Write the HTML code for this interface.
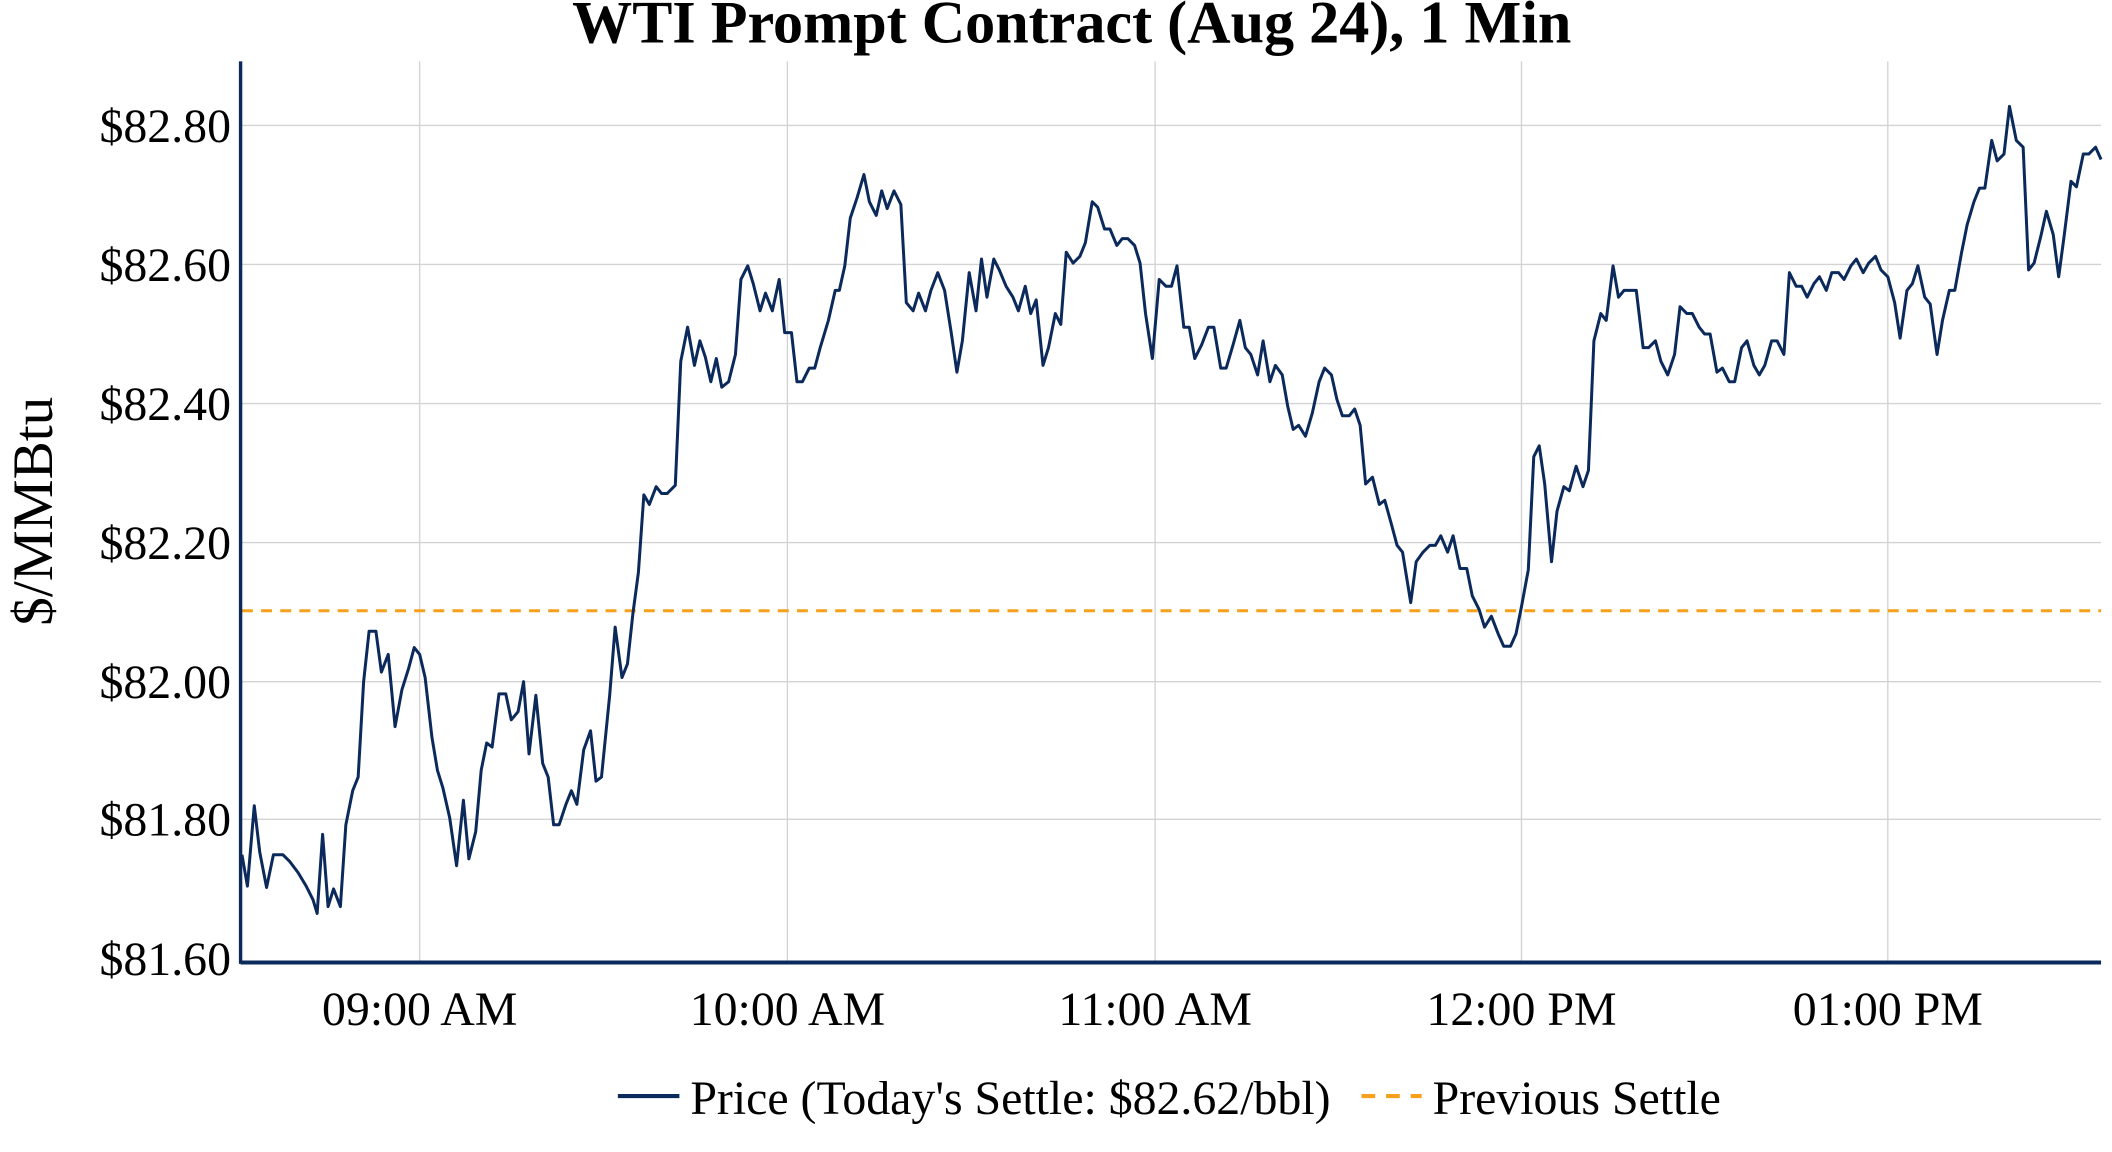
<!DOCTYPE html>
<html><head><meta charset="utf-8"><style>html,body{margin:0;padding:0;background:#fff;width:2112px;height:1152px;overflow:hidden}svg{display:block}text{font-family:"Liberation Serif",serif;fill:#000}</style></head><body>
<svg width="2112" height="1152" viewBox="0 0 1545 845" preserveAspectRatio="none">
<g stroke="#d3d3d3" stroke-width="1">
<line x1="177" x2="1537" y1="92" y2="92"/><line x1="177" x2="1537" y1="194" y2="194"/><line x1="177" x2="1537" y1="296" y2="296"/><line x1="177" x2="1537" y1="398" y2="398"/><line x1="177" x2="1537" y1="500" y2="500"/><line x1="177" x2="1537" y1="601" y2="601"/>
<line x1="307" x2="307" y1="45" y2="706"/><line x1="576" x2="576" y1="45" y2="706"/><line x1="845" x2="845" y1="45" y2="706"/><line x1="1113" x2="1113" y1="45" y2="706"/><line x1="1381" x2="1381" y1="45" y2="706"/>
</g>
<line x1="177" x2="1537" y1="448" y2="448" stroke="#f7a01c" stroke-width="2.2" stroke-dasharray="8,6"/>
<polyline fill="none" stroke="#0b2a5b" stroke-width="2.2" stroke-linejoin="round" points="177,627 181,650 186,591 190,625 195,651 200,627 207,627 212,632 218,640 224,650 229,660 232,670 236,612 240,665 244,652 249,665 253,605 258,580 262,570 266,500 270,463 275,463 279,493 284,480 289,533 294,506 299,490 303,475 307,480 311,497 316,541 320,565 324,578 329,600 334,635 339,587 343,630 348,610 352,565 356,545 360,548 365,509 370,509 374,528 379,522 383,500 387,553 392,510 397,560 401,570 405,605 409,605 414,590 418,580 422,590 427,550 432,536 436,573 440,570 446,510 450,460 455,497 459,487 463,450 467,420 471,363 475,370 480,357 484,362 488,362 494,356 498,265 503,240 508,268 512,250 516,262 520,280 524,263 528,284 533,280 538,260 542,205 547,195 551,208 556,228 560,215 565,228 570,205 574,244 579,244 583,280 587,280 592,270 596,270 600,255 606,235 611,213 614,213 618,195 622,160 627,145 632,128 636,148 641,158 645,140 649,153 654,140 659,150 663,222 668,228 672,215 677,228 681,213 686,200 691,213 696,245 700,273 704,250 709,200 714,228 718,190 722,218 727,190 731,198 736,210 741,218 745,228 750,210 754,230 758,220 763,268 767,255 772,230 776,238 780,185 785,193 790,188 794,178 799,148 803,152 808,168 812,168 817,180 821,175 825,175 830,180 834,193 838,230 843,263 848,205 853,210 857,210 861,195 866,240 870,240 874,263 879,253 884,240 888,240 893,270 897,270 902,253 907,235 911,255 915,260 920,275 924,250 929,280 933,268 938,275 942,298 946,315 950,312 955,320 960,303 965,280 969,270 974,275 978,293 982,305 987,305 991,300 995,312 999,355 1004,350 1009,370 1013,367 1018,385 1022,400 1026,405 1032,442 1036,412 1041,405 1046,400 1050,400 1054,393 1059,405 1063,393 1068,417 1073,417 1077,437 1082,447 1086,460 1091,452 1096,465 1100,474 1105,474 1109,465 1113,445 1118,418 1122,335 1126,327 1130,355 1135,412 1139,375 1144,357 1148,360 1153,342 1158,357 1162,345 1166,250 1171,230 1175,235 1180,195 1184,218 1188,213 1193,213 1197,213 1202,255 1206,255 1211,250 1215,265 1220,275 1225,260 1229,225 1234,230 1238,230 1243,240 1247,245 1251,245 1256,273 1260,270 1265,280 1269,280 1274,255 1278,250 1283,268 1287,275 1291,268 1296,250 1300,250 1305,260 1309,200 1314,210 1318,210 1322,218 1327,208 1331,203 1336,213 1340,200 1345,200 1349,205 1354,195 1358,190 1363,200 1367,193 1372,188 1376,198 1381,203 1386,222 1390,248 1395,213 1399,208 1403,195 1408,218 1412,223 1417,260 1421,235 1426,213 1430,213 1435,185 1439,165 1444,148 1448,138 1452,138 1457,103 1461,118 1466,113 1470,78 1475,103 1480,108 1484,198 1488,193 1493,173 1497,155 1502,172 1506,203 1510,173 1515,133 1519,137 1524,113 1528,113 1533,108 1537,117"/>
<line x1="176" x2="176" y1="45" y2="707" stroke="#0b2a5b" stroke-width="2.5"/>
<line x1="176" x2="1537" y1="706" y2="706" stroke="#0b2a5b" stroke-width="3"/>
<g font-size="35" text-anchor="end">
<text x="169" y="104">$82.80</text><text x="169" y="206">$82.60</text><text x="169" y="308">$82.40</text><text x="169" y="410">$82.20</text><text x="169" y="512">$82.00</text><text x="169" y="613">$81.80</text><text x="169" y="715">$81.60</text>
</g>
<g font-size="35" text-anchor="middle">
<text x="307" y="752">09:00 AM</text><text x="576" y="752">10:00 AM</text><text x="845" y="752">11:00 AM</text><text x="1113" y="752">12:00 PM</text><text x="1381" y="752">01:00 PM</text>
</g>
<text x="784" y="31" font-size="44" font-weight="bold" text-anchor="middle">WTI Prompt Contract (Aug 24), 1 Min</text>
<text transform="translate(38,375) rotate(-90)" font-size="42" text-anchor="middle">$/MMBtu</text>
<line x1="452" x2="497" y1="804" y2="804" stroke="#0b2a5b" stroke-width="3"/>
<text x="505" y="817" font-size="35">Price (Today's Settle: $82.62/bbl)</text>
<line x1="996" x2="1040" y1="804" y2="804" stroke="#f7a01c" stroke-width="3" stroke-dasharray="10,8"/>
<text x="1048" y="817" font-size="35">Previous Settle</text>
</svg>
</body></html>
